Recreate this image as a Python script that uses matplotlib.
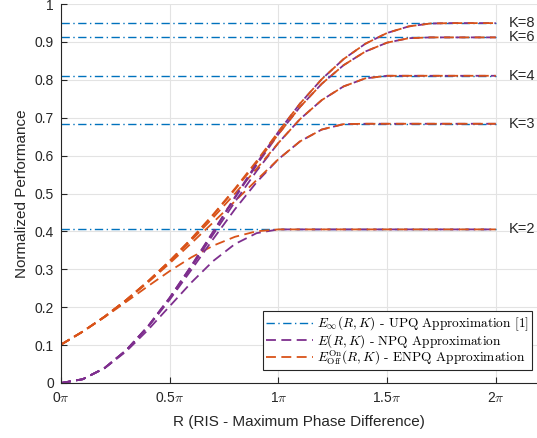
import numpy as np
import matplotlib.pyplot as plt
from matplotlib.lines import Line2D

# R in units of pi
r_pi = [0.0, 0.1, 0.2, 0.3, 0.4, 0.5, 0.6, 0.7, 0.8, 0.9, 1.0,
        1.1, 1.2, 1.3, 1.4, 1.5, 1.6, 1.7, 1.8, 1.9, 2.0]

k_values = [2, 3, 4, 6, 8]

# UPQ plateau levels
upq = [0.4053, 0.6840, 0.8106, 0.9119, 0.9496]

# NPQ curves (purple)
npq_k2 = [0.0, 0.0099, 0.0387, 0.0835, 0.1400, 0.2026, 0.2653, 0.3218, 0.3666, 0.3954, 0.4053,
          0.4053, 0.4053, 0.4053, 0.4053, 0.4053, 0.4053, 0.4053, 0.4053, 0.4053, 0.4053]
npq_k3 = [0.0, 0.0100, 0.0392, 0.0859, 0.1473, 0.2197, 0.2987, 0.3798, 0.4583, 0.5298, 0.5905,
          0.6376, 0.6688, 0.6830, 0.6840, 0.6840, 0.6840, 0.6840, 0.6840, 0.6840, 0.6840]
npq_k4 = [0.0, 0.0100, 0.0393, 0.0864, 0.1487, 0.2230, 0.3054, 0.3917, 0.4777, 0.5594, 0.6333,
          0.6964, 0.7466, 0.7825, 0.8037, 0.8106, 0.8106, 0.8106, 0.8106, 0.8106, 0.8106]
npq_k6 = [0.0, 0.0100, 0.0393, 0.0866, 0.1494, 0.2247, 0.3089, 0.3979, 0.4879, 0.5752, 0.6563,
          0.7285, 0.7896, 0.8385, 0.8745, 0.8980, 0.9098, 0.9119, 0.9119, 0.9119, 0.9119]
npq_k8 = [0.0, 0.0100, 0.0393, 0.0867, 0.1496, 0.2252, 0.3098, 0.3997, 0.4908, 0.5796, 0.6628,
          0.7375, 0.8019, 0.8546, 0.8950, 0.9235, 0.9409, 0.9486, 0.9496, 0.9496, 0.9496]

# ENPQ curves (orange)
enpq_k2 = [0.1013, 0.1355, 0.1736, 0.2142, 0.2554, 0.2953, 0.3316, 0.3623, 0.3857, 0.4003, 0.4053,
           0.4053, 0.4053, 0.4053, 0.4053, 0.4053, 0.4053, 0.4053, 0.4053, 0.4053, 0.4053]
enpq_k3 = [0.1013, 0.1356, 0.1747, 0.2180, 0.2653, 0.3158, 0.3689, 0.4237, 0.4796, 0.5355, 0.5905,
           0.6376, 0.6688, 0.6830, 0.6840, 0.6840, 0.6840, 0.6840, 0.6840, 0.6840, 0.6840]
enpq_k4 = [0.1013, 0.1356, 0.1748, 0.2187, 0.2671, 0.3198, 0.3763, 0.4363, 0.4995, 0.5653, 0.6333,
           0.6964, 0.7466, 0.7825, 0.8037, 0.8106, 0.8106, 0.8106, 0.8106, 0.8106, 0.8106]
enpq_k6 = [0.1013, 0.1357, 0.1749, 0.2191, 0.2681, 0.3218, 0.3801, 0.4429, 0.5100, 0.5812, 0.6563,
           0.7285, 0.7896, 0.8385, 0.8745, 0.8980, 0.9098, 0.9119, 0.9119, 0.9119, 0.9119]
enpq_k8 = [0.1013, 0.1357, 0.1750, 0.2192, 0.2684, 0.3224, 0.3812, 0.4447, 0.5129, 0.5856, 0.6628,
           0.7375, 0.8019, 0.8546, 0.8950, 0.9235, 0.9409, 0.9486, 0.9496, 0.9496, 0.9496]

npq = [npq_k2, npq_k3, npq_k4, npq_k6, npq_k8]
enpq = [enpq_k2, enpq_k3, enpq_k4, enpq_k6, enpq_k8]

blue = '#0072BD'
purple = '#7E2F8E'
orange = '#D95319'
dark = '#262626'

plt.rcParams['font.family'] = ['Liberation Sans', 'DejaVu Sans']
plt.rcParams['mathtext.fontset'] = 'cm'

fig = plt.figure(figsize=(5.37, 4.38), dpi=100)
ax = fig.add_axes([61 / 537, 55 / 438, 476 / 537, 379 / 438])

for k, level, yn, ye in zip(k_values, upq, npq, enpq):
    ax.plot([0, 2], [level, level], color=blue, lw=1.0, dashes=(6, 2.5, 1, 2.5))
    ax.plot(r_pi, yn, color=purple, lw=1.3, dashes=(5.5, 3))
    ax.plot(r_pi, ye, color=orange, lw=1.3, dashes=(5.5, 3))
    ax.text(2.058, level, 'K=%d' % k, fontsize=10.5, color=dark, va='center', ha='left')

ax.set_xlim(0, 2.19)
ax.set_ylim(0, 1)
ax.set_xticks([0, 0.5, 1, 1.5, 2])
ax.set_xticklabels([r'0$\pi$', r'0.5$\pi$', r'1$\pi$', r'1.5$\pi$', r'2$\pi$'])
ax.set_yticks(np.arange(0, 1.01, 0.1))
ax.set_yticklabels(['0', '0.1', '0.2', '0.3', '0.4', '0.5', '0.6', '0.7', '0.8', '0.9', '1'])
ax.tick_params(direction='in', length=4, width=0.8, colors=dark, labelsize=10)
ax.tick_params(axis='y', pad=5)
ax.tick_params(axis='x', pad=6)
ax.grid(True, color='#e3e3e3', lw=0.8)
ax.set_axisbelow(True)
for s in ['top', 'right']:
    ax.spines[s].set_visible(False)
for s in ['left', 'bottom']:
    ax.spines[s].set_color(dark)
    ax.spines[s].set_linewidth(0.8)

ax.set_xlabel('R (RIS - Maximum Phase Difference)', fontsize=11, color=dark, labelpad=7)
ax.set_ylabel('Normalized Performance', fontsize=11, color=dark, labelpad=4)

handles = [
    Line2D([], [], color=blue, lw=1.0, dashes=(6, 2.5, 1, 2.5)),
    Line2D([], [], color=purple, lw=1.3, dashes=(5.5, 3)),
    Line2D([], [], color=orange, lw=1.3, dashes=(5.5, 3)),
]
labels = [
    r'$E_{\infty}(R,K)$ - UPQ Approximation [1]',
    r'$E(R,K)$ - NPQ Approximation',
    r'$E_{\mathrm{Off}}^{\mathrm{On}}(R,K)$ - ENPQ Approximation',
]
leg = ax.legend(handles, labels, loc='lower right', bbox_to_anchor=(532 / 537, 68 / 438),
                bbox_transform=fig.transFigure, prop={'family': 'cmr10', 'size': 9.6},
                handlelength=3.5, handletextpad=0.3, labelspacing=-0.1, borderpad=0.25,
                borderaxespad=0, fancybox=False, framealpha=1)
leg.get_frame().set_edgecolor(dark)
leg.get_frame().set_linewidth(0.8)

fig.savefig('out.png', dpi=100)
